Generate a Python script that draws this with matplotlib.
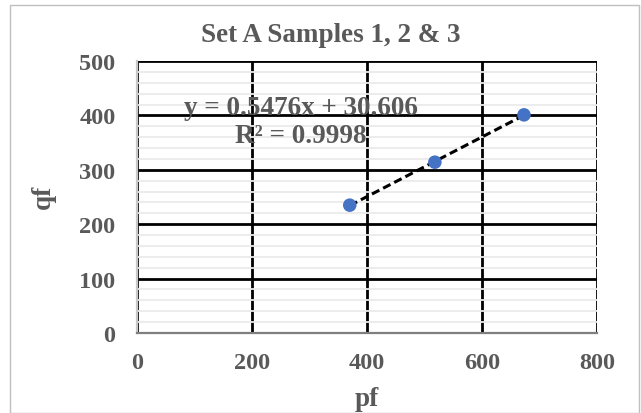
import numpy as np
import matplotlib.pyplot as plt
from matplotlib.patches import Rectangle
from matplotlib.ticker import MultipleLocator

# Set A samples 1, 2 & 3
pf = [370, 518, 673]
qf = [235, 314, 401]
x_ticks = [0, 200, 400, 600, 800]
y_ticks = [0, 100, 200, 300, 400, 500]
eq_text = "y = 0.5476x + 30.606\nR\u00b2 = 0.9998"

W, H = 641, 414
grey = "#595959"
plt.rcParams['font.family'] = ['Liberation Serif', 'DejaVu Serif']
plt.rcParams['font.weight'] = 'bold'

fig = plt.figure(figsize=(W / 100, H / 100), dpi=100)
# outer chart border
fig.patches.append(Rectangle((10 / W, 0), 629 / W, 1 - 6 / H, transform=fig.transFigure,
                             fill=False, edgecolor="#bfbfbf", linewidth=1))
ax = fig.add_axes([137 / W, 1 - 334 / H, 460 / W, 272 / H])

ax.set_xlim(0, 800)
ax.set_ylim(0, 500)
ax.set_xticks(x_ticks)
ax.set_yticks(y_ticks)
ax.yaxis.set_minor_locator(MultipleLocator(20))
ax.tick_params(which='both', length=0)
ax.tick_params(axis='x', pad=14, labelsize=17.5, labelcolor=grey)
ax.tick_params(axis='y', pad=15.5, labelsize=17.5, labelcolor=grey)
for lbl in ax.get_xticklabels() + ax.get_yticklabels():
    lbl.set_fontweight('bold')

ax.grid(which='minor', axis='y', color='#ebebeb', linewidth=1.3)
ax.grid(which='major', color='black', linewidth=2.0)
ax.set_axisbelow(True)

for s in ['top', 'right']:
    ax.spines[s].set_visible(False)
ax.spines['left'].set_color('#c8c8c8')
ax.spines['left'].set_linewidth(1.6)
ax.spines['bottom'].set_color('#7f7f7f')
ax.spines['bottom'].set_linewidth(1.6)
ax.spines['bottom'].set_zorder(3)

# linear trendline
m, c = np.polyfit(pf, qf, 1)
xs = np.array([min(pf), max(pf)])
ax.plot(xs, m * xs + c, linestyle=(0, (2.7, 1.4)), color='black', linewidth=2.2, zorder=3)
ax.scatter(pf, qf, s=95, color='#4472C4', zorder=4, edgecolors='none')

ax.text(285, 389, eq_text, ha='center', va='center', fontsize=19.5, color=grey,
        fontweight='bold', linespacing=1.15, zorder=5)

fig.text(331 / W, 1 - 36 / H, "Set A Samples 1, 2 & 3", ha='center', va='center',
         fontsize=19.5, color=grey, fontweight='bold')
fig.text(367 / W, 1 - 400 / H, "pf", ha='center', va='center',
         fontsize=19.5, color=grey, fontweight='bold')
fig.text(43 / W, 1 - 197 / H, "qf", ha='center', va='center', rotation=90,
         fontsize=19.5, color=grey, fontweight='bold')

fig.savefig("out.png", dpi=100)
